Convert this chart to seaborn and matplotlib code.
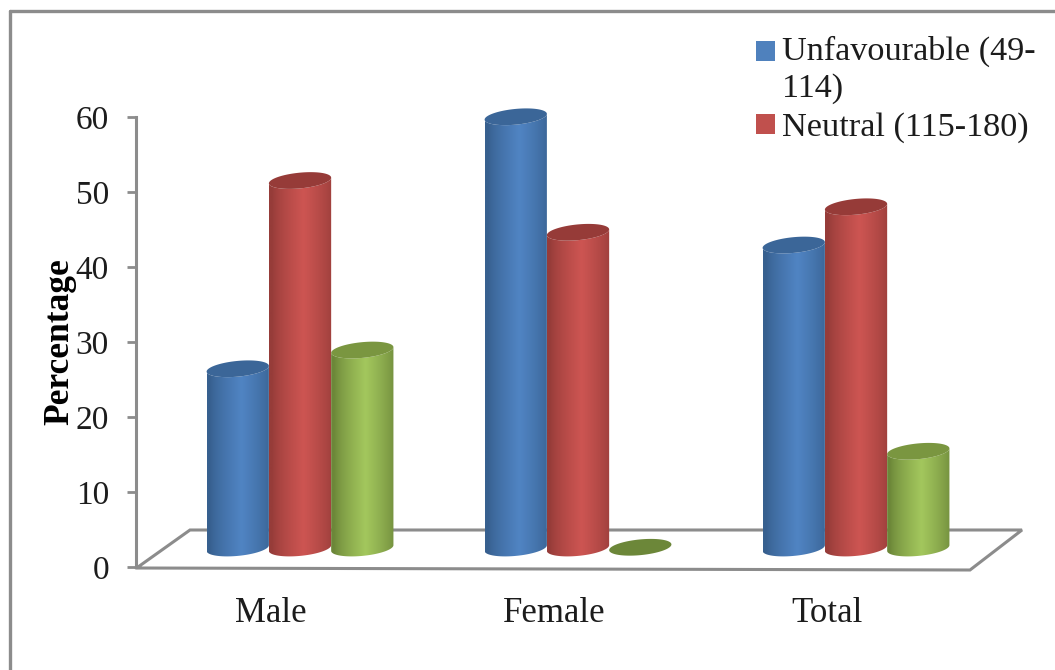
import numpy as np
import pandas as pd
import seaborn as sns
import matplotlib
matplotlib.use("Agg")
import matplotlib.pyplot as plt
from matplotlib.colors import to_rgb
from matplotlib.legend_handler import HandlerPatch
from matplotlib.patches import Patch, Polygon, Rectangle
from matplotlib.transforms import Affine2D

groups = ["Male", "Female", "Total"]
series = ["Unfavourable (49-\n114)", "Neutral (115-180)", "Favourable"]
unfavourable = [23.9, 57.5, 40.4]
neutral = [49.0, 42.1, 45.5]
favourable = [26.4, 0.1, 12.9]
y_ticks = [0, 10, 20, 30, 40, 50, 60]

edge_cols = ["#37608f", "#963c39", "#6c8739"]
mid_cols = ["#5084c3", "#cd5552", "#a3c75d"]
cap_cols = ["#3b6698", "#963b38", "#7a9640"]
legend_cols = ["#4f81bd", "#c0504d"]
grey = "#8c8c8c"
txt = "#1c1c1c"

W, H = 1055, 670
sns.set_theme(style="white")
plt.rcParams["font.family"] = ["Liberation Serif", "DejaVu Serif"]

df = pd.DataFrame({
    "group": groups * 3,
    "series": [s for s in series for _ in groups],
    "value": unfavourable + neutral + favourable,
})

fig = plt.figure(figsize=(W / 100, H / 100), dpi=100, facecolor="white")
ax = fig.add_axes([136 / W, 1 - 567 / H, (970 - 136) / W, 450 / H])
ax.patch.set_alpha(0)
sns.barplot(data=df, x="group", y="value", hue="series", hue_order=series,
            order=groups, palette=mid_cols, width=0.672, gap=0, saturation=1,
            errorbar=None, legend=False, ax=ax)

xlim = (-0.59, 2.41)
ylim = (0, 60)
px = Affine2D().scale(1 / W, -1 / H).translate(0, 1) + fig.transFigure

BASE = 2.53          # floor position of the column feet, in axis units
SEMI_Y = 1.05        # half height of the column ellipse, in axis units
SHEAR = 0.38         # tilt of the ellipse across half a column, in axis units


def ellipse(cx, cy, hw, t):
    x = hw * np.cos(t)
    return cx + x, cy + SEMI_Y * np.sin(t) + SHEAR * x / hw


for k, cont in enumerate(ax.containers):
    e, m = np.array(to_rgb(edge_cols[k])), np.array(to_rgb(mid_cols[k]))
    u = np.linspace(0, 1, 128)
    w = np.clip(1 - np.abs(u - 0.55) / 0.5, 0, 1) ** 0.75
    grad = (e[None, :] * (1 - w[:, None]) + m[None, :] * w[:, None])[None, :, :]
    for rect in cont:
        rect.set_visible(False)
        x0, hw = rect.get_x(), rect.get_width() / 2
        cx = x0 + hw
        top = BASE + rect.get_height()
        z = 10 + k
        t_low = np.linspace(np.pi, 2 * np.pi, 60)
        t_all = np.linspace(0, 2 * np.pi, 120)
        if rect.get_height() > 1:
            bx, by = ellipse(cx, BASE, hw, t_low)
            tx, ty = ellipse(cx, top, hw, t_low[::-1])
            body = Polygon(np.r_[np.c_[bx, by], np.c_[tx, ty]], closed=True,
                           transform=ax.transData, fc="none", ec="none", clip_on=False)
            ax.add_patch(body)
            im = ax.imshow(grad, extent=(x0, x0 + 2 * hw, BASE - 3, top + 3),
                           aspect="auto", zorder=z, interpolation="bilinear")
            im.set_clip_box(fig.bbox)
            im.set_clip_path(body)
        cxs, cys = ellipse(cx, top, hw, t_all)
        ax.fill(cxs, cys, color=cap_cols[k] if rect.get_height() > 1 else edge_cols[k],
                zorder=z + 0.5, lw=0, clip_on=False)

ax.set_xlim(*xlim)
ax.set_ylim(*ylim)
ax.set_aspect("auto")

for s in ("top", "right", "bottom"):
    ax.spines[s].set_visible(False)
ax.spines["left"].set_color(grey)
ax.spines["left"].set_linewidth(2.2)

ax.set_yticks(y_ticks)
ax.set_xticks([-0.105, 0.913, 1.895], groups)
ax.tick_params(axis="y", left=True, length=6.5, width=2, color=grey, pad=13,
               labelsize=24, labelcolor=txt)
ax.tick_params(axis="x", bottom=False, length=0, pad=21.5, labelsize=25, labelcolor=txt)
ax.set_xlabel("")
ax.set_ylabel("Percentage", fontsize=25.5, fontweight="bold", color="black")
ax.yaxis.set_label_coords((76 - 136) / (970 - 136), 0.5)

# floor of the 3D plot
ax.plot([136, 970, 1022, 190, 138], [568, 570, 530, 530, 567], transform=px,
        color=grey, lw=2.2, clip_on=False, zorder=1, solid_joinstyle="miter")
# outer chart frame, cropped on the right and bottom
ax.plot([10, 10], [670, 11], transform=px, color=grey, lw=2.4, clip_on=False, zorder=1)
ax.plot([10, 1055], [11, 11], transform=px, color=grey, lw=2.4, clip_on=False, zorder=1)


def raised_swatch(legend, orig_handle, xdescent, ydescent, width, height, fontsize):
    return Rectangle((-xdescent, -ydescent + 13.5), width, height)


def plain_swatch(legend, orig_handle, xdescent, ydescent, width, height, fontsize):
    return Rectangle((-xdescent, -ydescent), width, height)


handles = [Patch(fc=c, ec="none") for c in legend_cols]
leg = fig.legend(handles, series[:2], loc="upper left",
                 bbox_to_anchor=(756 / W, 1 - 36 / H), frameon=False, fontsize=24.7,
                 handlelength=0.55, handleheight=0.55, handletextpad=0.2,
                 labelspacing=0.25, labelcolor=txt, borderpad=0, borderaxespad=0,
                 handler_map={handles[0]: HandlerPatch(patch_func=raised_swatch),
                              handles[1]: HandlerPatch(patch_func=plain_swatch)})
leg.get_texts()[0].set_linespacing(1.25)

fig.savefig("out.png", dpi=100, facecolor="white")
